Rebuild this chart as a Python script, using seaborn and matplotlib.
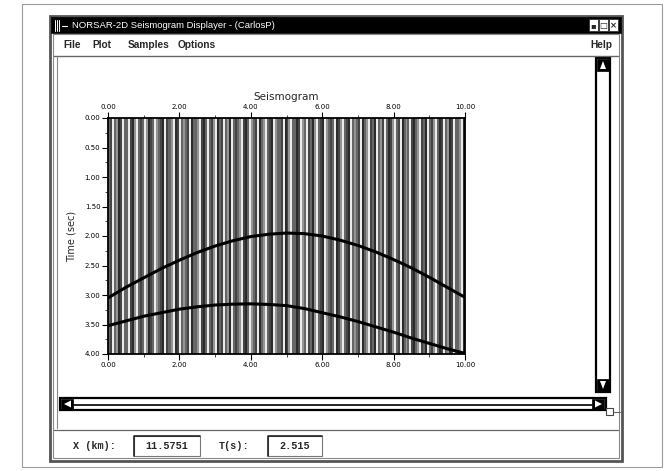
import numpy as np
import pandas as pd
import matplotlib
matplotlib.use("Agg")
import matplotlib.pyplot as plt
from matplotlib.patches import Rectangle, Polygon
import seaborn as sns

# ---------------- data ----------------
offset_km = [0.0, 0.5, 1.0, 1.5, 2.0, 2.5, 3.0, 3.5, 4.0, 4.5, 5.0,
             5.5, 6.0, 6.5, 7.0, 7.5, 8.0, 8.5, 9.0, 9.5, 10.0]
upper_t = [3.05, 2.87, 2.71, 2.55, 2.41, 2.28, 2.17, 2.08, 2.01, 1.97, 1.95,
           1.96, 2.00, 2.07, 2.16, 2.27, 2.40, 2.54, 2.70, 2.87, 3.04]
lower_t = [3.52, 3.44, 3.36, 3.30, 3.24, 3.20, 3.17, 3.155, 3.15, 3.16, 3.18,
           3.23, 3.30, 3.37, 3.45, 3.54, 3.63, 3.73, 3.82, 3.91, 3.99]
# trace shading across the section (w=white, l=light, m=mid, d=dark, k=black-ish)
trace_shades = ("mdwmlkdwmmwdklwmdmwl"
                "kdmwlmdkwdmmlwkdwmlm"
                "dwkmmlwdkmwmdlwkmdwm"
                "lkwmdmlwdkmwlmdwkmlw"
                "mdkwlmmdwkdlwmmkdwlm"
                "wdmklwmdkwlmdmwkdlwm"
                "dkwmlmdwkmlwdmkwmldw"
                "mkdlwmdwkmlmwdkmlwdm"
                "kwmdlwmkdwmlkdwmmlwk")
shade_level = {"w": 0.92, "l": 0.58, "m": 0.40, "d": 0.27, "k": 0.17}
x_ticks = [0, 2, 4, 6, 8, 10]
y_ticks = [0.0, 0.5, 1.0, 1.5, 2.0, 2.5, 3.0, 3.5, 4.0]

title_text = "NORSAR-2D Seismogram Displayer - (CarlosP)"
menu_items = ["File", "Plot", "Samples", "Options"]
x_value = "11.5751"
t_value = "2.515"

# ---------------- figure ----------------
sns.set_style("white")
plt.rcParams["font.family"] = ["DejaVu Sans"]
W, H = 670, 471
fig = plt.figure(figsize=(W / 100, H / 100), dpi=100)
fig.patch.set_facecolor("white")

bg = fig.add_axes([0, 0, 1, 1])
bg.set_xlim(0, W)
bg.set_ylim(H, 0)
bg.axis("off")


def rect(x0, y0, x1, y1, fc="none", ec="black", lw=1.0, z=1):
    bg.add_patch(Rectangle((x0, y0), x1 - x0, y1 - y0, facecolor=fc,
                           edgecolor=ec, linewidth=lw, zorder=z))


# page frame
rect(22, 4, 662, 467, ec="#9a9a9a", lw=0.8)
# window
rect(50, 16, 622, 461, fc="white", ec="#555555", lw=2.0)
rect(53, 34, 619, 458, ec="#888888", lw=0.8)
# title bar
rect(51, 17, 621, 33, fc="black", ec="black", lw=0.5, z=2)
# window-menu icon drawn as small marks
for k in range(3):
    bg.plot([55 + 2 * k, 55 + 2 * k], [20, 31], color="white", lw=0.7, zorder=3)
bg.plot([62, 67], [25.5, 25.5], color="white", lw=0.8, zorder=3)
bg.text(72, 25.5, title_text, color="white", fontsize=6.8, va="center",
        ha="left", zorder=3, family="Liberation Sans")
for i, g in enumerate(["\u25aa", "\u25a1", "\u00d7"]):
    bx = 589 + i * 10
    rect(bx, 19, bx + 9, 31, fc="white", ec="#333333", lw=0.6, z=3)
    bg.text(bx + 4.5, 25.3, g, fontsize=6, ha="center", va="center", zorder=4,
            fontweight="bold")
# menu bar
menu_x = [63, 92, 128, 178]
for mx, m in zip(menu_x, menu_items):
    bg.text(mx, 45.5, m, fontsize=7.3, fontweight="bold", va="center",
            ha="left", family="Liberation Sans")
bg.text(612, 45.5, "Help", fontsize=7.3, fontweight="bold", va="center",
        ha="right", family="Liberation Sans")
bg.plot([54, 618], [56, 56], color="#666666", lw=1.0)
bg.plot([57, 57], [57, 428], color="#888888", lw=0.8)

# vertical scrollbar
rect(596, 58, 610, 392, fc="white", ec="black", lw=1.6)
rect(597, 59, 609, 71, fc="black", ec="black", lw=0.5, z=2)
bg.add_patch(Polygon([[600, 69], [606, 69], [603, 61]], closed=True,
                     facecolor="white", edgecolor="none", zorder=3))
rect(597, 379, 609, 391, fc="black", ec="black", lw=0.5, z=2)
bg.add_patch(Polygon([[600, 381], [606, 381], [603, 389]], closed=True,
                     facecolor="white", edgecolor="none", zorder=3))
# horizontal scrollbar
rect(60, 398, 606, 410, fc="white", ec="black", lw=1.6)
bg.plot([73, 592], [405, 405], color="black", lw=1.2)
rect(61, 399, 73, 409, fc="black", ec="black", lw=0.5, z=2)
bg.add_patch(Polygon([[64, 404], [71, 400.5], [71, 407.5]], closed=True,
                     facecolor="white", edgecolor="none", zorder=3))
rect(592, 399, 604, 409, fc="black", ec="black", lw=0.5, z=2)
bg.add_patch(Polygon([[602, 404], [595, 400.5], [595, 407.5]], closed=True,
                     facecolor="white", edgecolor="none", zorder=3))
rect(606, 408, 613, 415, fc="white", ec="#444444", lw=0.8, z=3)
bg.plot([613, 620], [411.5, 411.5], color="#666666", lw=0.8)
# separator
bg.plot([54, 618], [430, 430], color="#666666", lw=0.9)

# status bar
mono = "Liberation Mono"
ty = 446
bg.text(73, ty, "X (km):", fontsize=7.3, fontweight="bold", family=mono,
        va="center", ha="left")
rect(134, 436, 200, 456, fc="white", ec="#777777", lw=0.8)
bg.plot([134, 134, 200], [456, 436, 436], color="#222222", lw=1.2)
bg.text(145, ty, x_value, fontsize=7.3, fontweight="bold", family=mono,
        va="center", ha="left")
bg.text(219, ty, "T(s):", fontsize=7.3, fontweight="bold", family=mono,
        va="center", ha="left")
rect(268, 436, 322, 456, fc="white", ec="#777777", lw=0.8)
bg.plot([268, 268, 322], [456, 436, 436], color="#222222", lw=1.2)
bg.text(279, ty, t_value, fontsize=7.3, fontweight="bold", family=mono,
        va="center", ha="left")

# ---------------- seismogram axes ----------------
L, R, T, B = 108, 465, 118, 354
ax = fig.add_axes([L / W, 1 - B / H, (R - L) / W, (B - T) / H])

levels = np.array([[shade_level[c] for c in trace_shades]])
x_edges = np.linspace(0, 10, len(trace_shades) + 1)
ax.pcolormesh(x_edges, [0, 4], levels, cmap="gray", vmin=0, vmax=1,
              shading="flat")

curves = pd.DataFrame({"x": offset_km * 2,
                       "t": upper_t + lower_t,
                       "event": ["upper"] * len(offset_km) + ["lower"] * len(offset_km)})
sns.lineplot(data=curves, x="x", y="t", units="event", estimator=None,
             color="black", linewidth=2.2, ax=ax, sort=False)

ax.set_xlim(0, 10)
ax.set_ylim(4, 0)
ax.set_xticks(x_ticks)
ax.set_xticklabels([f"{v:.2f}" for v in x_ticks])
ax.set_xticks([1, 3, 5, 7, 9], minor=True)
ax.set_yticks(y_ticks)
ax.set_yticklabels([f"{v:.2f}" for v in y_ticks])
ax.set_yticks([0.25, 0.75, 1.25, 1.75, 2.25, 2.75, 3.25, 3.75], minor=True)
ax.tick_params(axis="x", which="both", top=True, bottom=True,
               labeltop=True, labelbottom=True, direction="out")
ax.tick_params(axis="y", which="both", left=True, right=False, direction="out")
ax.tick_params(which="major", length=4, width=0.8, labelsize=5, pad=1.5,
               colors="black")
ax.tick_params(which="minor", length=2, width=0.6)
for s in ax.spines.values():
    s.set_visible(True)
    s.set_linewidth(1.3)
    s.set_color("black")
ax.set_xlabel("")
ax.set_ylabel("Time (sec)", fontsize=7, labelpad=6)
ax.set_title("Seismogram", fontsize=7.5, pad=13)

fig.savefig("out.png", dpi=100)
